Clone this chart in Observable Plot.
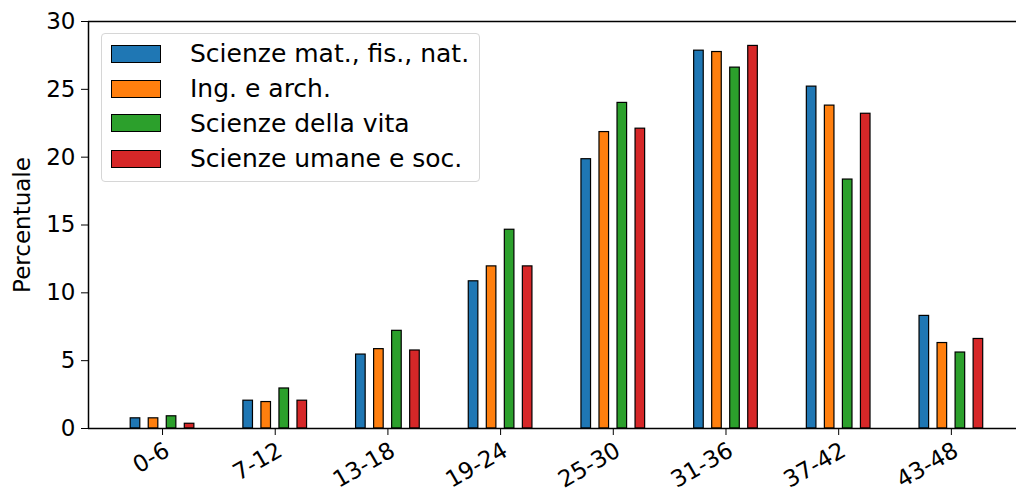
<!DOCTYPE html>
<html>
<head>
<meta charset="utf-8">
<script src="https://cdn.jsdelivr.net/npm/d3@7"></script>
<script src="https://cdn.jsdelivr.net/npm/@observablehq/plot@0.6"></script>
<style>
  html, body { margin: 0; padding: 0; background: #fff; }
  #wrap { position: relative; width: 1016px; height: 495px; font-family: "DejaVu Sans", sans-serif; }
  #legend {
    position: absolute; left: 101px; top: 33px; width: 377px; height: 147px;
    border: 1px solid #d6d6d6; border-radius: 4px; background: rgba(255,255,255,0.8);
    box-sizing: content-box;
  }
  .row { position: absolute; left: 9px; height: 26px; display: flex; align-items: center; }
  .sw { width: 48px; height: 16px; border: 1px solid #000; box-sizing: content-box; }
  .lab { margin-left: 29px; font-size: 25px; color: #000; white-space: nowrap; }
</style>
</head>
<body>
<div id="wrap"></div>
<script>
const categories = ["0-6", "7-12", "13-18", "19-24", "25-30", "31-36", "37-42", "43-48"];
const seriesNames = ["Scienze mat., fis., nat.", "Ing. e arch.", "Scienze della vita", "Scienze umane e soc."];
const matFisNat   = [0.75, 2.05, 5.45, 10.85, 19.85, 27.85, 25.2, 8.3];
const ingArch     = [0.75, 1.95, 5.85, 11.95, 21.85, 27.75, 23.8, 6.3];
const scienzeVita = [0.9, 2.95, 7.2, 14.65, 24.0, 26.6, 18.35, 5.6];
const umaneSoc    = [0.35, 2.05, 5.75, 11.95, 22.1, 28.2, 23.2, 6.6];
const yTicks = [0, 5, 10, 15, 20, 25, 30];
const colors = ["#1f77b4", "#ff7f0e", "#2ca02c", "#d62728"];

const seriesValues = [matFisNat, ingArch, scienzeVita, umaneSoc];
const barStep = 0.16, barWidth = 0.085;
const rows = [];
categories.forEach((c, i) => {
  seriesValues.forEach((vals, j) => {
    const cx = i + (j - 1.5) * barStep;
    rows.push({category: c, series: seriesNames[j], value: vals[i], x1: cx - barWidth / 2, x2: cx + barWidth / 2});
  });
});
const xDomain = [-0.657, 7.578];
const xTicks = d3.range(categories.length);

const chart = Plot.plot({
  width: 1016,
  height: 495,
  marginLeft: 88,
  marginRight: 0,
  marginTop: 21,
  marginBottom: 67,
  style: {fontFamily: "DejaVu Sans, sans-serif", fontSize: "23px", color: "#000", background: "#fff"},
  x: {type: "linear", domain: xDomain},
  y: {domain: [0, 30]},
  color: {domain: seriesNames, range: colors},
  marks: [
    Plot.rectY(rows, {x1: "x1", x2: "x2", y1: 0, y2: "value", fill: "series", stroke: "#000", strokeWidth: 1.2}),
    Plot.ruleY([0, 30], {stroke: "#000", strokeWidth: 1.5}),
    Plot.ruleX([xDomain[0]], {stroke: "#000", strokeWidth: 1.5}),
    Plot.axisY({ticks: yTicks, tickSize: 7, tickPadding: 6, label: "Percentuale", labelAnchor: "center", labelArrow: "none", labelOffset: 75}),
    Plot.axisX({ticks: xTicks, tickFormat: () => "", tickSize: 7, label: null}),
    Plot.axisX({ticks: xTicks, tickFormat: i => categories[i], tickRotate: -30, tickSize: 0, tickPadding: 11, dx: 5, dy: 9, label: null})
  ]
});
const wrap = document.getElementById("wrap");
wrap.appendChild(chart);

const legend = document.createElement("div");
legend.id = "legend";
const rowCenters = [19.7, 54.7, 89.3, 124.7];
seriesNames.forEach((name, j) => {
  const r = document.createElement("div");
  r.className = "row";
  r.style.top = (rowCenters[j] - 13) + "px";
  const sw = document.createElement("div");
  sw.className = "sw";
  sw.style.background = colors[j];
  const lab = document.createElement("span");
  lab.className = "lab";
  lab.textContent = name;
  r.appendChild(sw); r.appendChild(lab);
  legend.appendChild(r);
});
wrap.appendChild(legend);
</script>
</body>
</html>
